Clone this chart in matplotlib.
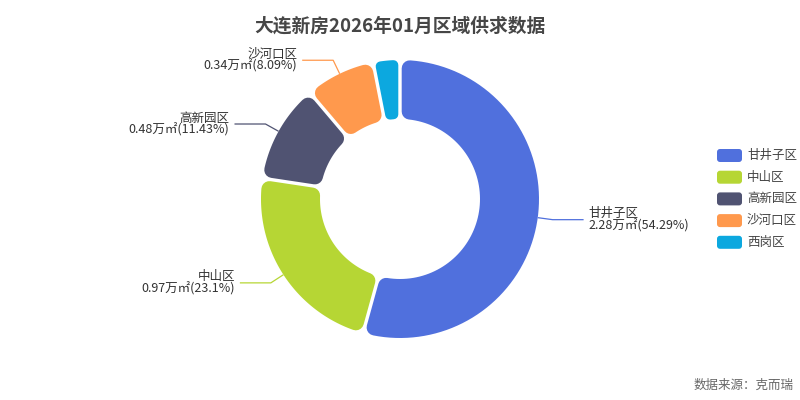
import numpy as np
import matplotlib
matplotlib.use("Agg")
import matplotlib.pyplot as plt
from matplotlib.path import Path
from matplotlib.patches import PathPatch, FancyBboxPatch

plt.rcParams['font.family'] = ['Noto Sans CJK SC', 'DejaVu Sans']

# ---- data ----
title = "大连新房2026年01月区域供求数据"
categories = ["甘井子区", "中山区", "高新园区", "沙河口区", "西岗区"]
values = [2.28, 0.97, 0.48, 0.34, 0.13]          # 万㎡
percents = ["54.29%", "23.1%", "11.43%", "8.09%", "3.1%"]
show_label = [True, True, True, True, False]
colors = ["#5070dd", "#b6d634", "#505372", "#ff994d", "#0ca8df"]
source = "数据来源：克而瑞"

W, H = 800, 400
fig = plt.figure(figsize=(8, 4), dpi=100)
ax = fig.add_axes([0, 0, 1, 1])

cx, cy = 400, H - 199
R, Ri = 139.0, 80.0
wedges, _ = ax.pie(values, startangle=90, counterclock=False,
                   center=(cx, cy), radius=R, colors=colors,
                   wedgeprops=dict(width=R - Ri))
ax.set_xlim(0, W)
ax.set_ylim(0, H)
ax.set_aspect('equal')
ax.axis('off')

rc = 8.0      # corner radius (px)
hg = 1.7      # half gap (px)
px2pt = 72.0 / 100.0

for w, c in zip(wedges, colors):
    w.set_visible(False)
    t1, t2 = np.radians(w.theta1), np.radians(w.theta2)
    dt = t2 - t1
    rce = min(rc, 0.8 * (Ri * np.sin(dt / 2) - hg))
    d = rce + hg
    Ro, Rin = R - rce, Ri + rce
    n = 80
    a_o = np.linspace(t1 + np.arcsin(d / Ro), t2 - np.arcsin(d / Ro), n)
    rho = np.linspace(Ro, Rin, 20)
    a_e2 = t2 - np.arcsin(d / rho)
    a_i = np.linspace(t2 - np.arcsin(d / Rin), t1 + np.arcsin(d / Rin), n)
    rho2 = rho[::-1]
    a_e1 = t1 + np.arcsin(d / rho2)
    rr = np.concatenate([np.full(n, Ro), rho, np.full(n, Rin), rho2])
    aa = np.concatenate([a_o, a_e2, a_i, a_e1])
    xs = cx + rr * np.cos(aa)
    ys = cy + rr * np.sin(aa)
    verts = np.column_stack([xs, ys])
    verts = np.vstack([verts, verts[:1]])
    codes = [Path.MOVETO] + [Path.LINETO] * (len(verts) - 2) + [Path.CLOSEPOLY]
    p = PathPatch(Path(verts, codes), facecolor=c, edgecolor=c,
                  linewidth=2 * rce * px2pt, joinstyle='round')
    ax.add_patch(p)

# labels with leader lines
for w, cat, v, pc, show, c in zip(wedges, categories, values, percents, show_label, colors):
    if not show:
        continue
    tm = np.radians((w.theta1 + w.theta2) / 2)
    x0, y0 = cx + R * np.cos(tm), cy + R * np.sin(tm)
    x1, y1 = cx + (R + 15) * np.cos(tm), cy + (R + 15) * np.sin(tm)
    side = 1 if np.cos(tm) >= 0 else -1
    x2 = x1 + side * 31
    ax.plot([x0, x1, x2], [y0, y1, y1], color=c, lw=0.9, solid_capstyle='butt')
    tx = x2 + side * 5
    ha = 'left' if side > 0 else 'right'
    ax.text(tx, y1 + 6, cat, ha=ha, va='center', fontsize=9, color='#333333')
    ax.text(tx, y1 - 6, f"{v:.2f}万㎡({pc})", ha=ha, va='center', fontsize=9,
            color='#333333')

# title
ax.text(400, H - 26, title, ha='center', va='center', fontsize=13.5,
        fontweight='bold', color='#464646')

# legend
for i, (cat, c) in enumerate(zip(categories, colors)):
    yc = H - (155.5 + i * 21.7)
    ax.add_patch(FancyBboxPatch((717 + 3, yc - 6.5 + 3), 25 - 6, 13 - 6,
                                boxstyle="round,pad=3", facecolor=c,
                                edgecolor='none'))
    ax.text(747, yc, cat, ha='left', va='center', fontsize=9, color='#444444')

# source
ax.text(794, H - 385, source, ha='right', va='center', fontsize=9, color='#666666')

fig.savefig("out.png", dpi=100, facecolor='white')
